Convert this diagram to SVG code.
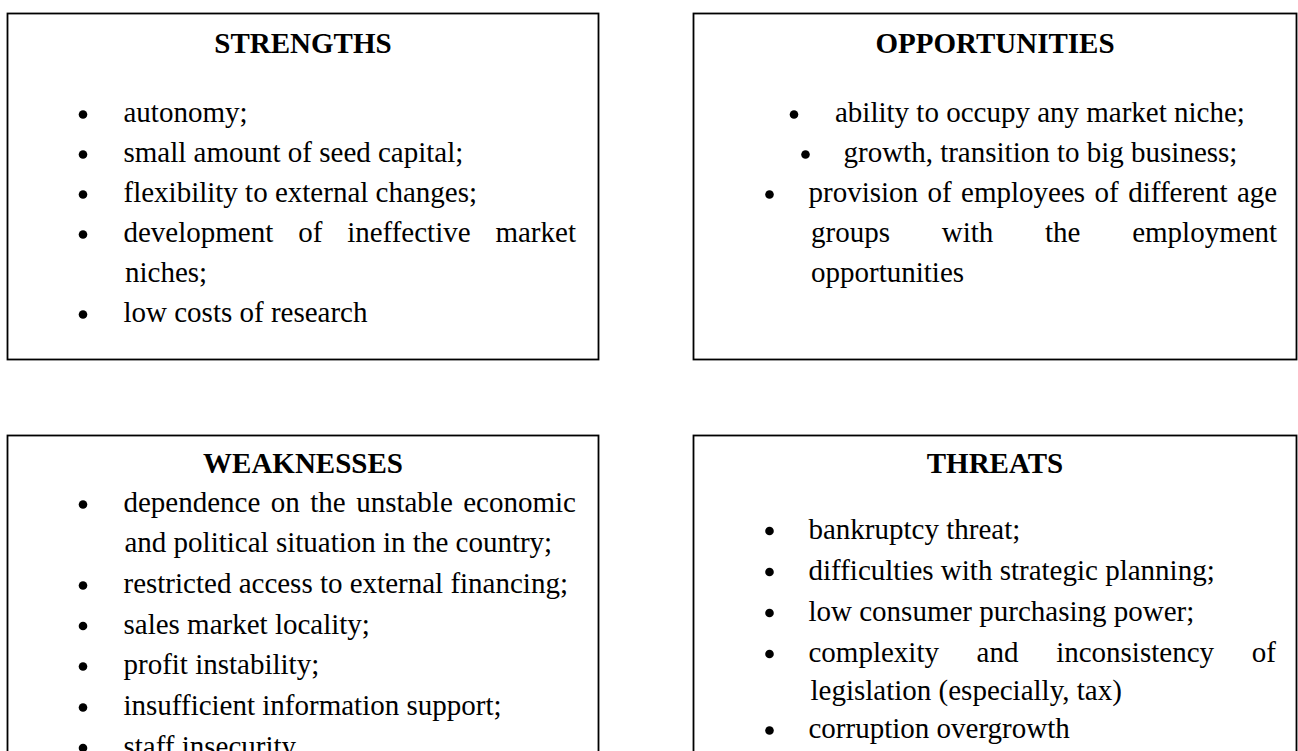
<svg xmlns="http://www.w3.org/2000/svg" width="1298" height="751" viewBox="0 0 1298 751">
<style>
.box{fill:#fff;stroke:#000;stroke-width:1.8}
.t{font-family:"Liberation Serif","Times New Roman",serif;font-size:29px;fill:#000}
.h{font-weight:bold;text-anchor:middle}
.b{fill:#000}
</style>
<rect width="1298" height="751" fill="#fff"/>
<g id="strengths">
<rect class="box" x="7.5" y="13.5" width="591" height="346"/>
<text class="t h" x="303" y="53">STRENGTHS</text>
<circle class="b" cx="83" cy="114.5" r="4.3"/><text class="t" x="123.5" y="122">autonomy;</text>
<circle class="b" cx="83" cy="154.5" r="4.3"/><text class="t" x="123.5" y="162">small amount of seed capital;</text>
<circle class="b" cx="83" cy="194.5" r="4.3"/><text class="t" x="123.5" y="202">flexibility to external changes;</text>
<circle class="b" cx="83" cy="234.5" r="4.3"/><text class="t" x="123.5" y="242" word-spacing="17.6">development of ineffective market</text>
<text class="t" x="125" y="282">niches;</text>
<circle class="b" cx="83" cy="314.5" r="4.3"/><text class="t" x="123.5" y="322">low costs of research</text>
</g>
<g id="opportunities">
<rect class="box" x="693.5" y="13.5" width="603" height="346"/>
<text class="t h" x="995" y="53">OPPORTUNITIES</text>
<circle class="b" cx="794" cy="114.5" r="4.3"/><text class="t" x="835" y="122">ability to occupy any market niche;</text>
<circle class="b" cx="805.5" cy="154.5" r="4.3"/><text class="t" x="843.5" y="162">growth, transition to big business;</text>
<circle class="b" cx="769.5" cy="194.5" r="4.3"/><text class="t" x="808.5" y="202" word-spacing="2.2">provision of employees of different age</text>
<text class="t" x="811" y="242" word-spacing="44.5">groups with the employment</text>
<text class="t" x="811" y="282">opportunities</text>
</g>
<g id="weaknesses">
<rect class="box" x="7.5" y="435.5" width="591" height="340"/>
<text class="t h" x="303" y="473">WEAKNESSES</text>
<circle class="b" cx="83" cy="504.5" r="4.3"/><text class="t" x="123.5" y="512" word-spacing="3.2">dependence on the unstable economic</text>
<text class="t" x="124.5" y="552">and political situation in the country;</text>
<circle class="b" cx="83" cy="585.5" r="4.3"/><text class="t" x="123.5" y="593">restricted access to external financing;</text>
<circle class="b" cx="83" cy="626" r="4.3"/><text class="t" x="123.5" y="633.5">sales market locality;</text>
<circle class="b" cx="83" cy="666.5" r="4.3"/><text class="t" x="123.5" y="674">profit instability;</text>
<circle class="b" cx="83" cy="707.5" r="4.3"/><text class="t" x="123.5" y="715">insufficient information support;</text>
<circle class="b" cx="83" cy="748" r="4.3"/><text class="t" x="123.5" y="755.5">staff insecurity</text>
</g>
<g id="threats">
<rect class="box" x="693.5" y="435.5" width="603" height="340"/>
<text class="t h" x="995" y="473">THREATS</text>
<circle class="b" cx="769.5" cy="531" r="4.3"/><text class="t" x="808.5" y="538.5">bankruptcy threat;</text>
<circle class="b" cx="769.5" cy="572" r="4.3"/><text class="t" x="808.5" y="579.5">difficulties with strategic planning;</text>
<circle class="b" cx="769.5" cy="613" r="4.3"/><text class="t" x="808.5" y="620.5">low consumer purchasing power;</text>
<circle class="b" cx="769.5" cy="654" r="4.3"/><text class="t" x="808.5" y="661.5" word-spacing="30.4">complexity and inconsistency of</text>
<text class="t" x="810.5" y="700">legislation (especially, tax)</text>
<circle class="b" cx="769.5" cy="730.5" r="4.3"/><text class="t" x="808.5" y="738">corruption overgrowth</text>
</g>
<g id="connectors"/>
</svg>
